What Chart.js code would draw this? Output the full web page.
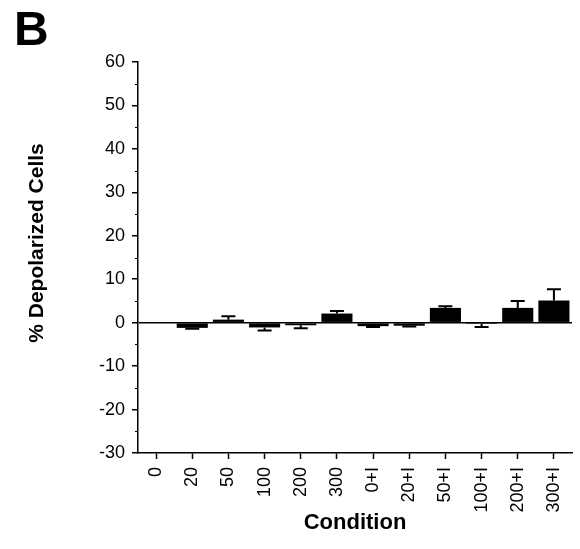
<!DOCTYPE html>
<html>
<head>
<meta charset="utf-8">
<script src="https://cdn.jsdelivr.net/npm/chart.js@4.4.0/dist/chart.umd.min.js"></script>
<style>
  html, body { margin: 0; padding: 0; background: #fff; }
  #wrap { width: 580px; height: 549px; position: relative; }
</style>
</head>
<body>
<div id="wrap"><canvas id="chart"></canvas></div>
<script>
// Data
const conditions = ['0', '20', '50', '100', '200', '300', '0+I', '20+I', '50+I', '100+I', '200+I', '300+I'];
const depolarized = [0, -1.2, 0.7, -1.1, -0.6, 2.1, -0.8, -0.7, 3.4, -0.3, 3.4, 5.1];
const sem = [0, 0.2, 0.8, 0.7, 0.7, 0.6, 0.2, 0.2, 0.4, 0.7, 1.6, 2.6];
const yTicks = [-30, -20, -10, 0, 10, 20, 30, 40, 50, 60];

const FONT = "'Liberation Sans', Arial, Helvetica, sans-serif";
Chart.defaults.font.family = FONT;
Chart.defaults.color = '#000';

// Error bars, drawn away from zero
const errorBars = {
    id: 'errorBars',
    afterDatasetsDraw(chart) {
        const ctx = chart.ctx;
        const y = chart.scales.y;
        const meta = chart.getDatasetMeta(0);
        ctx.save();
        ctx.strokeStyle = '#000';
        ctx.lineWidth = 2;
        meta.data.forEach((bar, i) => {
            const v = depolarized[i];
            const e = sem[i];
            if (!e) return;
            const end = v >= 0 ? v + e : v - e;
            const y0 = y.getPixelForValue(v);
            const y1 = y.getPixelForValue(end);
            ctx.beginPath();
            ctx.moveTo(bar.x, y0);
            ctx.lineTo(bar.x, y1);
            ctx.moveTo(bar.x - 7, y1);
            ctx.lineTo(bar.x + 7, y1);
            ctx.stroke();
        });
        ctx.restore();
    }
};

// Minor y ticks, y title and the panel letter
const extras = {
    id: 'extras',
    afterDraw(chart) {
        const ctx = chart.ctx;
        const y = chart.scales.y;
        const left = chart.chartArea.left;
        ctx.save();
        ctx.strokeStyle = '#000';
        ctx.lineWidth = 1;
        for (let i = 0; i < yTicks.length - 1; i++) {
            const py = Math.round(y.getPixelForValue((yTicks[i] + yTicks[i + 1]) / 2)) + 0.5;
            ctx.beginPath();
            ctx.moveTo(left - 3, py);
            ctx.lineTo(left, py);
            ctx.stroke();
        }
        ctx.fillStyle = '#000';
        ctx.font = 'bold 48px ' + FONT;
        ctx.textBaseline = 'alphabetic';
        ctx.textAlign = 'left';
        ctx.fillText('B', 14, 45);

        // y axis title, a little above the axis centre as in the figure
        ctx.translate(37, 243);
        ctx.rotate(-Math.PI / 2);
        ctx.font = 'bold 21px ' + FONT;
        ctx.textAlign = 'center';
        ctx.textBaseline = 'middle';
        ctx.fillText('% Depolarized Cells', 0, 0);
        ctx.restore();
    }
};

new Chart(document.getElementById('chart'), {
    type: 'bar',
    data: {
        labels: conditions,
        datasets: [{
            data: depolarized,
            backgroundColor: '#000',
            borderWidth: 0,
            barPercentage: 0.86,
            categoryPercentage: 1
        }]
    },
    options: {
        responsive: true,
        maintainAspectRatio: false,
        animation: false,
        layout: { padding: { top: 62, right: 8, left: 0, bottom: 0 } },
        plugins: {
            legend: { display: false },
            tooltip: { enabled: false }
        },
        scales: {
            x: {
                offset: true,
                afterFit(scale) {
                    scale.height = 96;
                    scale.paddingLeft = 0;
                    scale.paddingRight = 0;
                },
                grid: {
                    drawOnChartArea: false,
                    tickLength: 6,
                    tickColor: '#000',
                    tickWidth: 1.5,
                    offset: false
                },
                border: { color: '#000', width: 1.5 },
                ticks: {
                    maxRotation: 90,
                    minRotation: 90,
                    padding: 8,
                    autoSkip: false,
                    font: { size: 18 },
                    color: '#000'
                },
                title: {
                    display: true,
                    text: 'Condition',
                    font: { size: 22, weight: 'bold' },
                    color: '#000',
                    padding: { top: 0, bottom: 13 }
                }
            },
            y: {
                min: -30,
                max: 60,
                afterFit(scale) { scale.width = 138; },
                afterBuildTicks(scale) {
                    scale.ticks = yTicks.map(v => ({ value: v }));
                },
                grid: {
                    drawOnChartArea: true,
                    color: c => (c.tick && c.tick.value === 0 ? '#000' : 'rgba(0,0,0,0)'),
                    lineWidth: 1.5,
                    tickLength: 6,
                    tickColor: '#000'
                },
                border: { color: '#000', width: 1.5 },
                ticks: {
                    padding: 7,
                    font: { size: 18 },
                    color: '#000'
                },
                title: { display: false }
            }
        }
    },
    plugins: [errorBars, extras]
});
</script>
</body>
</html>
